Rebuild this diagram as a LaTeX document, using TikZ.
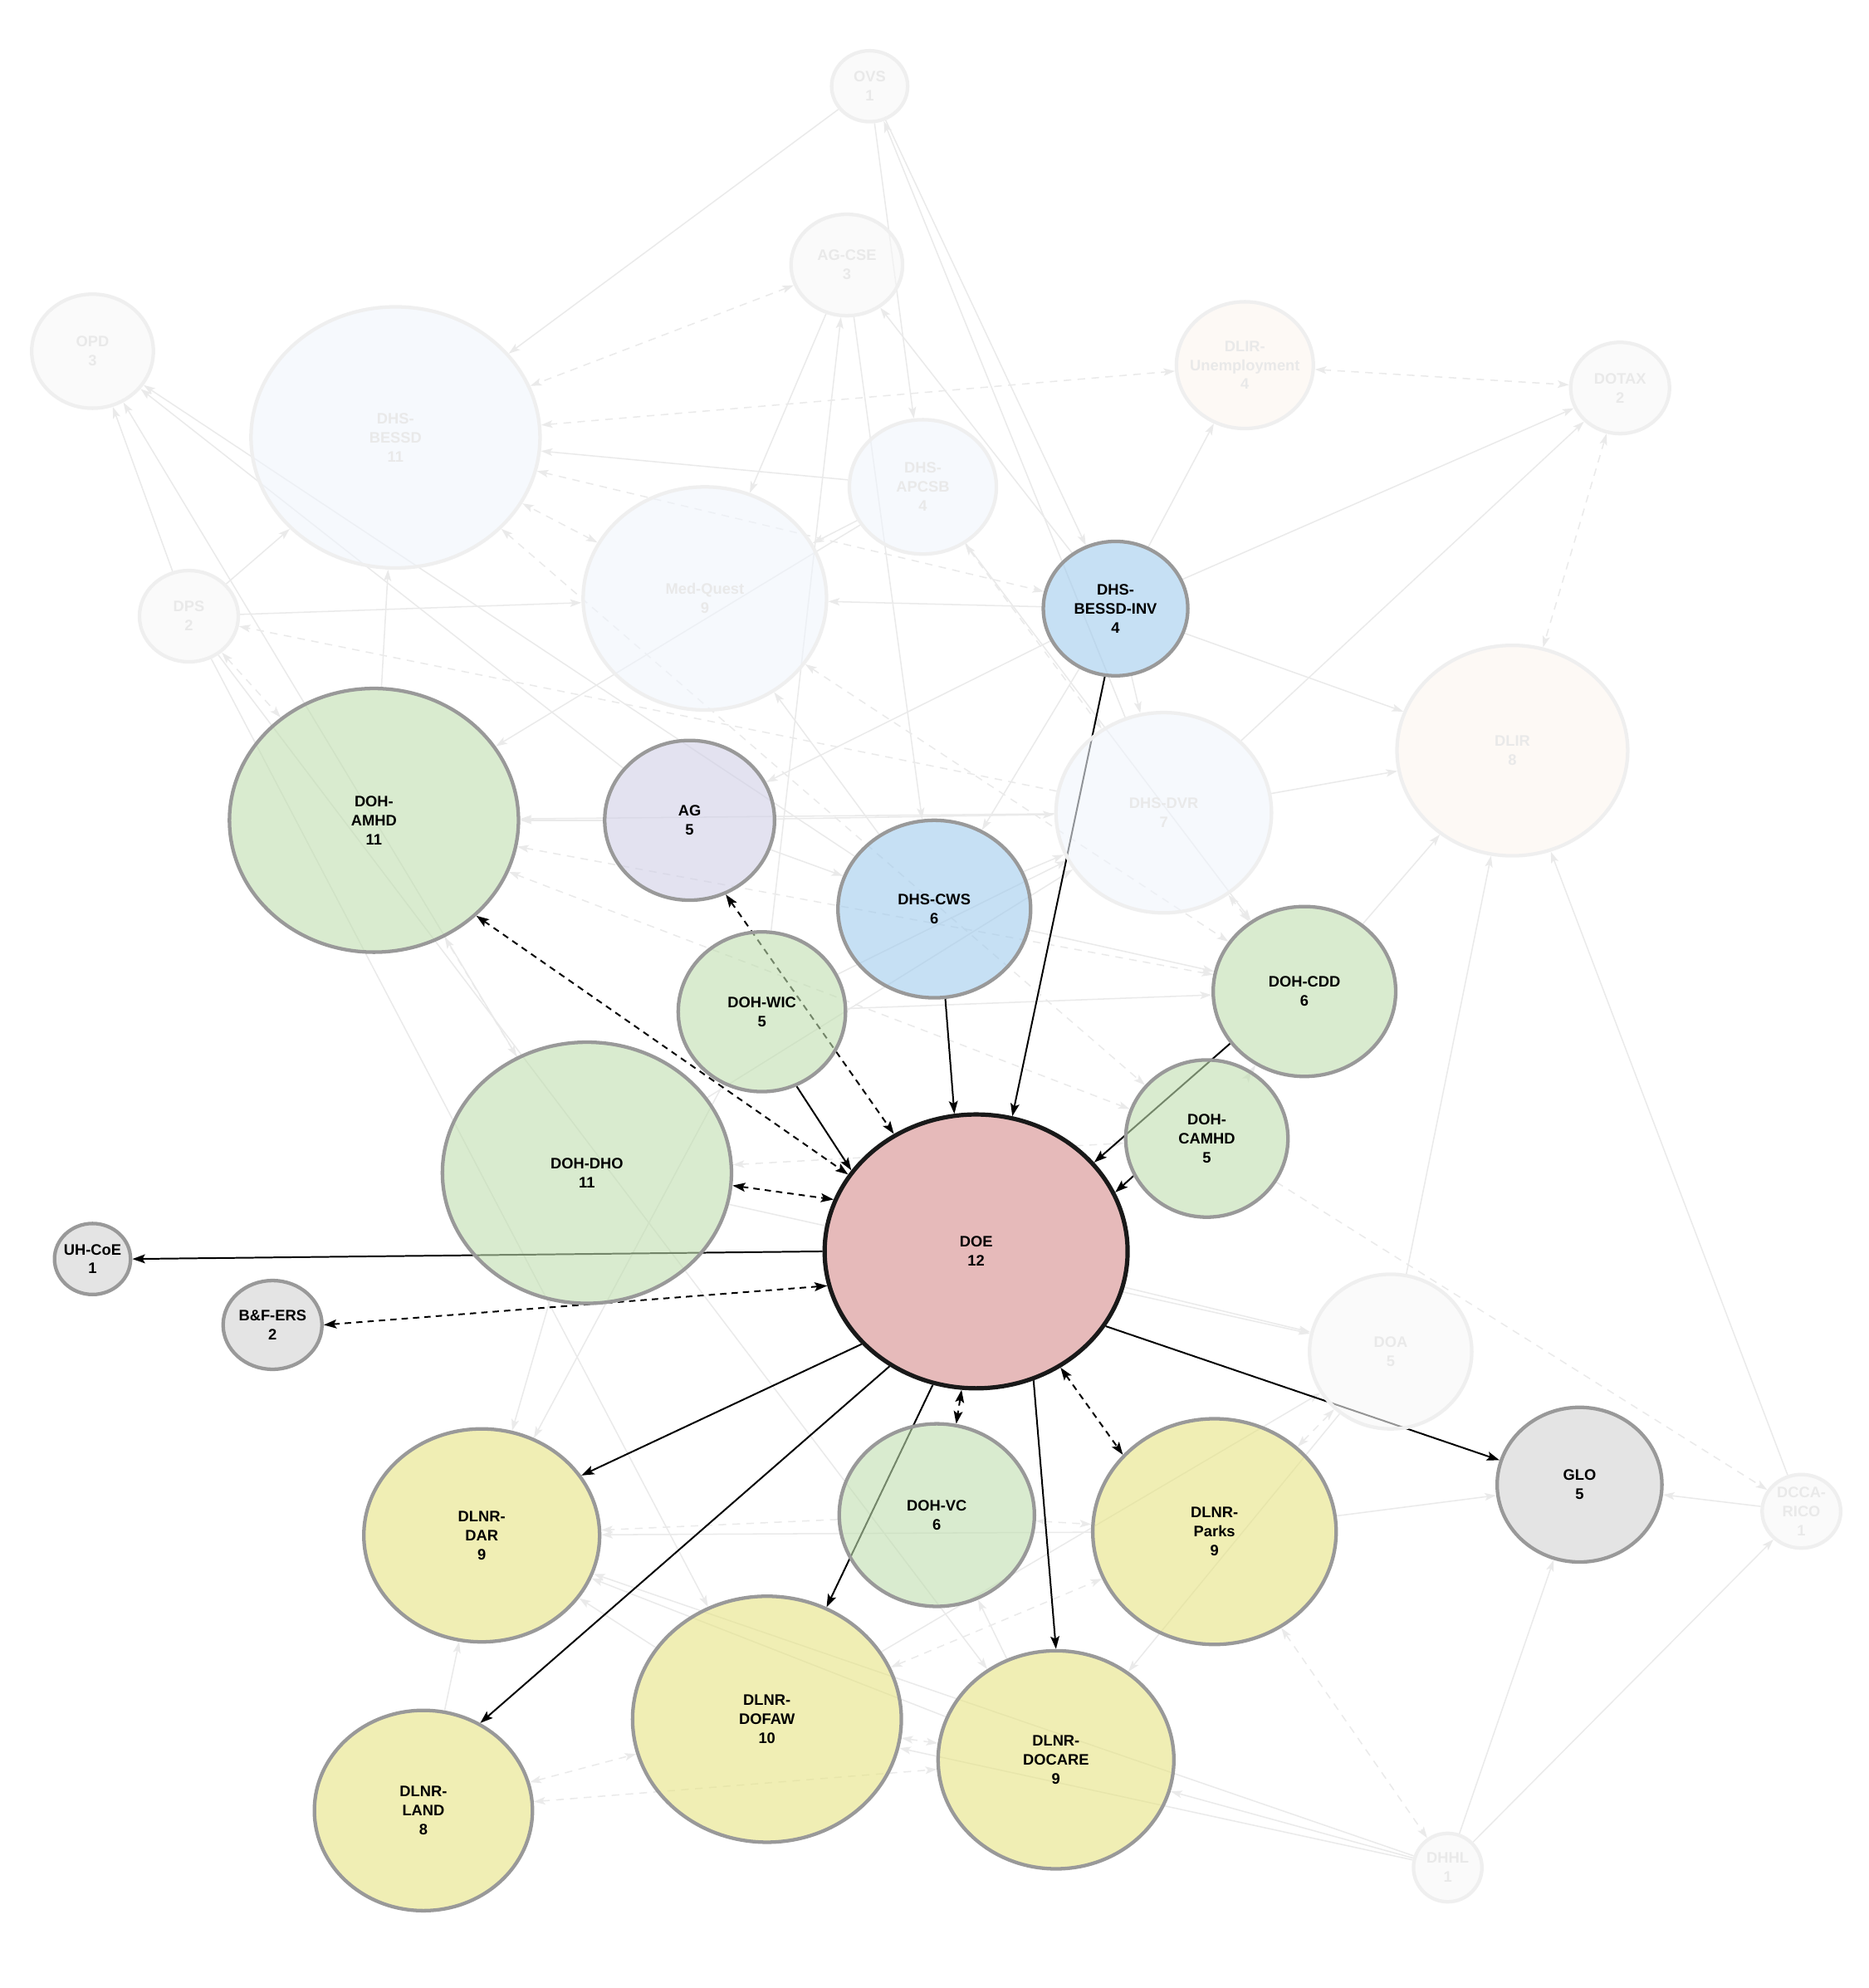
\documentclass[tikz,border=0pt]{standalone}
\usepackage{fontspec}
\setmainfont{Liberation Sans}
\usepackage{tikz}
\usetikzlibrary{shapes.geometric, arrows.meta, backgrounds}
\definecolor{rimgray}{HTML}{999999}
\definecolor{ghostline}{HTML}{EAEAEA}
\definecolor{ghostrim}{HTML}{EFEFEF}
\definecolor{ghosttext}{HTML}{E9E9E9}
\definecolor{dohgreen}{RGB}{192,222,175}
\definecolor{dlnryellow}{RGB}{230,227,130}
\definecolor{dhsblue}{RGB}{160,203,237}
\definecolor{aglavender}{RGB}{208,207,230}
\definecolor{doepink}{RGB}{230,186,186}
\definecolor{othergray}{RGB}{210,210,210}
\definecolor{paleblue}{RGB}{240,245,252}
\definecolor{paleorange}{RGB}{252,245,239}
\definecolor{palegray}{RGB}{247,247,247}
\tikzstyle{agency} = [ellipse, draw=rimgray, line width=2.8pt, fill opacity=0.6, text opacity=1, inner sep=0pt, align=center, font=\bfseries\fontsize{12}{15}\selectfont]
\tikzstyle{faded} = [agency, draw=ghostrim, text=ghosttext]
\tikzstyle{arrow} = [line width=1.3pt, -{Stealth[length=10pt,width=7pt,inset=2pt]}]
\tikzstyle{twoway} = [arrow, {Stealth[length=10pt,width=7pt,inset=2pt]}-{Stealth[length=10pt,width=7pt,inset=2pt]}, dash pattern=on 5pt off 4pt]
\tikzstyle{ghost} = [line width=1pt, draw=ghostline, -{Stealth[length=9pt,width=6pt,inset=2pt]}]
\tikzstyle{ghostdash} = [ghost, dash pattern=on 6pt off 5pt]
\tikzstyle{ghosttwo} = [ghostdash, {Stealth[length=9pt,width=6pt,inset=2pt]}-{Stealth[length=9pt,width=6pt,inset=2pt]}]
\begin{document}
\begin{tikzpicture}[x=1pt, y=-1pt]
    \useasboundingbox (0,0) rectangle (1474,1568);

    \node (ovs) [faded, fill=palegray, minimum width=60pt, minimum height=56pt] at (686,68) {OVS\\1};
    \node (agcse) [faded, fill=palegray, minimum width=88pt, minimum height=80pt] at (668,209) {AG-CSE\\3};
    \node (opd) [faded, fill=palegray, minimum width=96pt, minimum height=90pt] at (73,277) {OPD\\3};
    \node (bessd) [faded, fill=paleblue, minimum width=228pt, minimum height=206pt] at (312,345) {DHS-\\BESSD\\11};
    \node (dlirun) [faded, fill=paleorange, minimum width=108pt, minimum height=100pt, inner xsep=-6pt] at (982,288) {DLIR-\\Unemployment\\4};
    \node (dotax) [faded, fill=palegray, minimum width=78pt, minimum height=72pt] at (1278,306) {DOTAX\\2};
    \node (apcsb) [faded, fill=paleblue, minimum width=116pt, minimum height=106pt] at (728,384) {DHS-\\APCSB\\4};
    \node (medquest) [faded, fill=paleblue, minimum width=192pt, minimum height=176pt] at (556,472) {Med-Quest\\9};
    \node (inv) [agency, fill=dhsblue, minimum width=114pt, minimum height=106pt] at (880,480) {DHS-\\BESSD-INV\\4};
    \node (dps) [faded, fill=palegray, minimum width=78pt, minimum height=72pt] at (149,486) {DPS\\2};
    \node (dlir) [faded, fill=paleorange, minimum width=182pt, minimum height=166pt] at (1193,592) {DLIR\\8};
    \node (amhd) [agency, fill=dohgreen, minimum width=228pt, minimum height=208pt] at (295,647) {DOH-\\AMHD\\11};
    \node (ag) [agency, fill=aglavender, minimum width=134pt, minimum height=126pt] at (544,647) {AG\\5};
    \node (dvr) [faded, fill=paleblue, minimum width=170pt, minimum height=158pt] at (918,641) {DHS-DVR\\7};
    \node (cws) [agency, fill=dhsblue, minimum width=152pt, minimum height=140pt] at (737,717) {DHS-CWS\\6};
    \node (cdd) [agency, fill=dohgreen, minimum width=144pt, minimum height=134pt] at (1029,782) {DOH-CDD\\6};
    \node (wic) [agency, fill=dohgreen, minimum width=132pt, minimum height=126pt] at (601,798) {DOH-WIC\\5};
    \node (camhd) [agency, fill=dohgreen, minimum width=128pt, minimum height=124pt] at (952,898) {DOH-\\CAMHD\\5};
    \node (dho) [agency, fill=dohgreen, minimum width=228pt, minimum height=206pt] at (463,925) {DOH-DHO\\11};
    \node (doe) [agency, fill=doepink, fill opacity=1, draw=black!90, line width=3.4pt, minimum width=239pt, minimum height=216pt] at (770,987) {DOE\\12};
    \node (uhcoe) [agency, fill=othergray, minimum width=60pt, minimum height=56pt, inner xsep=-2pt] at (73,993) {UH-CoE\\1};
    \node (bfers) [agency, fill=othergray, minimum width=78pt, minimum height=70pt] at (215,1045) {B\&F-ERS\\2};
    \node (doa) [faded, fill=palegray, minimum width=128pt, minimum height=122pt] at (1097,1066) {DOA\\5};
    \node (glo) [agency, fill=othergray, minimum width=130pt, minimum height=122pt] at (1246,1171) {GLO\\5};
    \node (rico) [faded, fill=palegray, minimum width=62pt, minimum height=58pt] at (1421,1192) {DCCA-\\RICO\\1};
    \node (dar) [agency, fill=dlnryellow, minimum width=186pt, minimum height=168pt] at (380,1211) {DLNR-\\DAR\\9};
    \node (vc) [agency, fill=dohgreen, minimum width=154pt, minimum height=144pt] at (739,1195) {DOH-VC\\6};
    \node (parks) [agency, fill=dlnryellow, minimum width=192pt, minimum height=178pt] at (958,1208) {DLNR-\\Parks\\9};
    \node (dofaw) [agency, fill=dlnryellow, minimum width=212pt, minimum height=194pt] at (605,1356) {DLNR-\\DOFAW\\10};
    \node (docare) [agency, fill=dlnryellow, minimum width=186pt, minimum height=172pt] at (833,1388) {DLNR-\\DOCARE\\9};
    \node (land) [agency, fill=dlnryellow, minimum width=172pt, minimum height=158pt] at (334,1428) {DLNR-\\LAND\\8};
    \node (dhhl) [faded, fill=palegray, minimum width=54pt, minimum height=54pt] at (1142,1473) {DHHL\\1};

    \begin{scope}[on background layer]
    \draw [ghost] (ovs) -- (bessd);
    \draw [ghost] (ovs) -- (apcsb);
    \draw [ghost] (dvr) -- (ovs);
    \draw [ghost] (ovs) -- (inv);
    \draw [ghost] (agcse) -- (medquest);
    \draw [ghost] (wic) -- (agcse);
    \draw [ghost] (inv) -- (agcse);
    \draw [ghost] (agcse) -- (cws);
    \draw [ghost] (apcsb) -- (bessd);
    \draw [ghost] (apcsb) -- (medquest);
    \draw [ghost] (apcsb) -- (amhd);
    \draw [ghost] (apcsb) -- (cdd);
    \draw [ghost] (inv) -- (medquest);
    \draw [ghost] (inv) -- (dlirun);
    \draw [ghost] (inv) -- (dlir);
    \draw [ghost] (inv) -- (dotax);
    \draw [ghost] (inv) -- (dvr);
    \draw [ghost] (inv) -- (cws);
    \draw [ghost] (inv) -- (ag);
    \draw [ghost] (dvr) -- (dotax);
    \draw [ghost] (dvr) -- (dlir);
    \draw [ghost] (dps) -- (opd);
    \draw [ghost] (dho) -- (opd);
    \draw [ghost] (cws) -- (opd);
    \draw [ghost] (ag) -- (opd);
    \draw [ghost] (dps) -- (bessd);
    \draw [ghost] (dps) -- (medquest);
    \draw [ghost] (dps) -- (dofaw);
    \draw [ghost] (dps) -- (docare);
    \draw [ghost] (amhd) -- (bessd);
    \draw [ghost] (ag) -- (amhd);
    \draw [ghost] (dvr) -- (amhd);
    \draw [ghost] (ag) -- (dvr);
    \draw [ghost] (ag) -- (cws);
    \draw [ghost] (cws) -- (dvr);
    \draw [ghost] (cws) -- (cdd);
    \draw [ghost] (cws) -- (medquest);
    \draw [ghost] (wic) -- (cdd);
    \draw [ghost] (wic) -- (dvr);
    \draw [ghost] (wic) -- (dar);
    \draw [ghost] (cdd) -- (dlir);
    \draw [ghost] (dho) -- (dvr);
    \draw [ghost] (dho) -- (doa);
    \draw [ghost] (dho) -- (dar);
    \draw [ghost] (doa) -- (dlir);
    \draw [ghost] (rico) -- (dlir);
    \draw [ghost] (rico) -- (glo);
    \draw [ghost] (dhhl) -- (glo);
    \draw [ghost] (dhhl) -- (rico);
    \draw [ghost] (dhhl) -- (docare);
    \draw [ghost] (dhhl) -- (dofaw);
    \draw [ghost] (dhhl) -- (dar);
    \draw [ghost] (parks) -- (glo);
    \draw [ghost] (doa) -- (docare);
    \draw [ghost] (parks) -- (dar);
    \draw [ghost] (docare) -- (vc);
    \draw [ghost] (docare) -- (dar);
    \draw [ghost] (dofaw) -- (dar);
    \draw [ghost] (land) -- (dar);
    \draw [ghost] (doe) -- (doa);
    \draw [ghost] (dofaw) -- (doa);
    \draw [ghosttwo] (agcse) -- (bessd);
    \draw [ghosttwo] (bessd) -- (dlirun);
    \draw [ghosttwo] (dlirun) -- (dotax);
    \draw [ghosttwo] (medquest) -- (bessd);
    \draw [ghosttwo] (bessd) -- (inv);
    \draw [ghosttwo] (dps) -- (amhd);
    \draw [ghosttwo] (dotax) -- (dlir);
    \draw [ghosttwo] (cdd) -- (dvr);
    \draw [ghosttwo] (camhd) -- (cdd);
    \draw [ghosttwo] (amhd) -- (cdd);
    \draw [ghosttwo] (amhd) -- (camhd);
    \draw [ghosttwo] (dho) -- (camhd);
    \draw [ghosttwo] (dho) -- (amhd);
    \draw [ghosttwo] (parks) -- (doa);
    \draw [ghosttwo] (parks) -- (dhhl);
    \draw [ghosttwo] (land) -- (dofaw);
    \draw [ghosttwo] (land) -- (docare);
    \draw [ghosttwo] (dofaw) -- (docare);
    \draw [ghosttwo] (dofaw) -- (parks);
    \draw [ghosttwo] (vc) -- (parks);
    \draw [ghosttwo] (bessd) -- (camhd);
    \draw [ghosttwo] (medquest) -- (cdd);
    \draw [ghosttwo] (apcsb) -- (dvr);
    \draw [ghostdash] (dvr) -- (dps);
    \draw [ghostdash] (camhd) -- (rico);
    \draw [ghostdash] (vc) -- (dar);

    \draw [twoway] (amhd.-43) -- (doe.149);
    \draw [twoway] (ag.-64) -- (doe.125);
    \draw [arrow] (cws.-83) -- (doe.99);
    \draw [arrow] (inv.261) -- (doe.75);
    \draw [arrow] (wic.-65) -- (doe.147);
    \draw [arrow] (cdd.215) -- (doe.37);
    \draw [arrow] (camhd.207) -- (doe.23);
    \draw [twoway] (dho.-5) -- (doe.160);
    \draw [arrow] (doe.180) -- (uhcoe.0);
    \draw [twoway] (bfers.0) -- (doe.193);
    \draw [arrow] (doe.219) -- (dar.31);
    \draw [arrow] (doe.233) -- (land.57);
    \draw [arrow] (doe.252) -- (dofaw.62);
    \draw [twoway] (doe.264) -- (vc.78);
    \draw [arrow] (doe.294) -- (docare.90);
    \draw [twoway] (doe.-54) -- (parks.140);
    \draw [arrow] (doe.-30) -- (glo.163);
    \end{scope}
\end{tikzpicture}
\end{document}
